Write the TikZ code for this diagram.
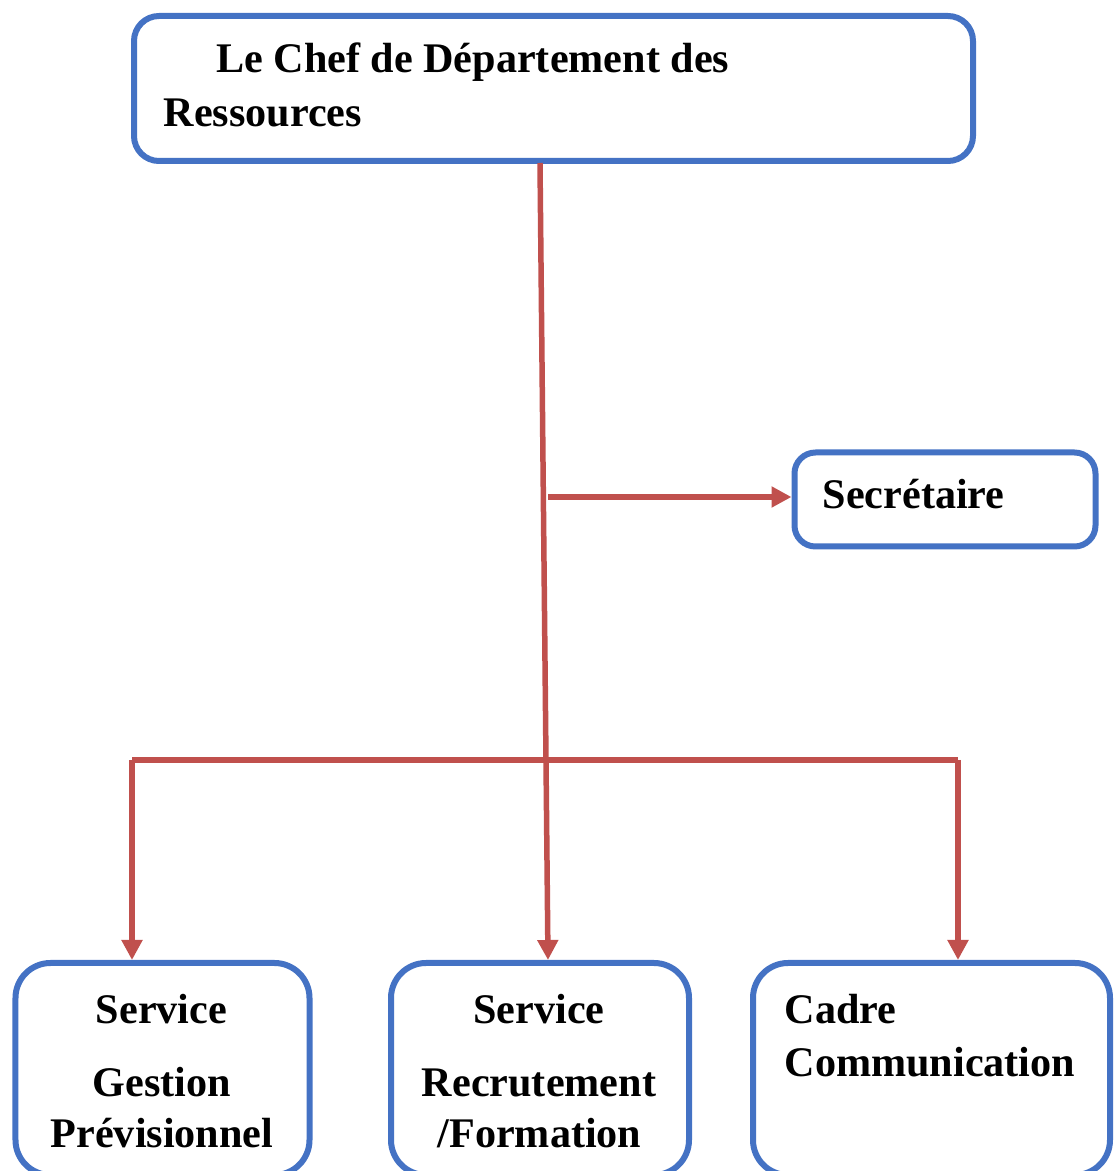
\documentclass[tikz,border=0pt]{standalone}
\usepackage{fontspec}
\setmainfont{Liberation Serif}
\usetikzlibrary{arrows.meta,positioning,calc}
\definecolor{boxblue}{HTML}{4472C4}
\definecolor{linkred}{HTML}{C0504D}
\tikzstyle{unit} = [rectangle, rounded corners=0.25cm, draw=boxblue, line width=0.06cm, fill=white, inner sep=0pt]
\tikzstyle{lbl} = [inner sep=0pt, font=\fontsize{12}{14}\selectfont\bfseries]
\tikzstyle{link} = [draw=linkred, line width=0.055cm]
\tikzstyle{arrow} = [link, -{Triangle[length=0.2cm,width=0.2cm]}]

\begin{document}
\begin{tikzpicture}
\useasboundingbox (0,0) rectangle (11.13,11.71);
% boxes
\draw (5.535,10.825) node (chef) [unit, minimum width=8.39cm, minimum height=1.45cm] {};
\draw (9.45,6.715) node (secr) [unit, rounded corners=0.21cm, minimum width=3.01cm, minimum height=0.94cm] {};
\draw (1.625,1.02) node (gest) [unit, rounded corners=0.35cm, minimum width=2.94cm, minimum height=2.12cm] {};
\draw (5.40,1.02) node (recr) [unit, rounded corners=0.35cm, minimum width=2.98cm, minimum height=2.12cm] {};
\draw (9.315,1.02) node (comm) [unit, rounded corners=0.35cm, minimum width=3.57cm, minimum height=2.12cm] {};
% texts
\draw (2.155,10.98) node (chefA) [lbl, anchor=base west] {Le Chef de Département des};
\draw (1.63,10.44) node (chefB) [lbl, anchor=base west] {Ressources};
\draw (8.22,6.62) node (secrA) [lbl, anchor=base west] {Secrétaire};
\draw (1.615,1.47) node (gestA) [lbl, anchor=base] {Service};
\draw (1.62,0.74) node (gestB) [lbl, anchor=base] {Gestion};
\draw (1.62,0.23) node (gestC) [lbl, anchor=base] {Prévisionnel};
\draw (5.39,1.47) node (recrA) [lbl, anchor=base] {Service};
\draw (5.39,0.74) node (recrB) [lbl, anchor=base] {Recrutement};
\draw (5.395,0.23) node (recrC) [lbl, anchor=base] {/Formation};
\draw (7.84,1.47) node (commA) [lbl, anchor=base west] {Cadre};
\draw (7.84,0.94) node (commB) [lbl, anchor=base west] {Communication};
% connectors
\coordinate (trunk) at (5.40,10.08);
\coordinate (branch) at (5.48,6.74);
\coordinate (barL) at (1.32,4.11);
\coordinate (barR) at (9.58,4.11);
\draw [arrow] (trunk)--([xshift=0.08cm]recr.north);
\draw [arrow] (branch)--(branch -| secr.west);
\draw [link] (barL)--(barR);
\draw [arrow] (barL)--(barL |- gest.north);
\draw [arrow] (barR)--(barR |- comm.north);
\end{tikzpicture}
\end{document}
